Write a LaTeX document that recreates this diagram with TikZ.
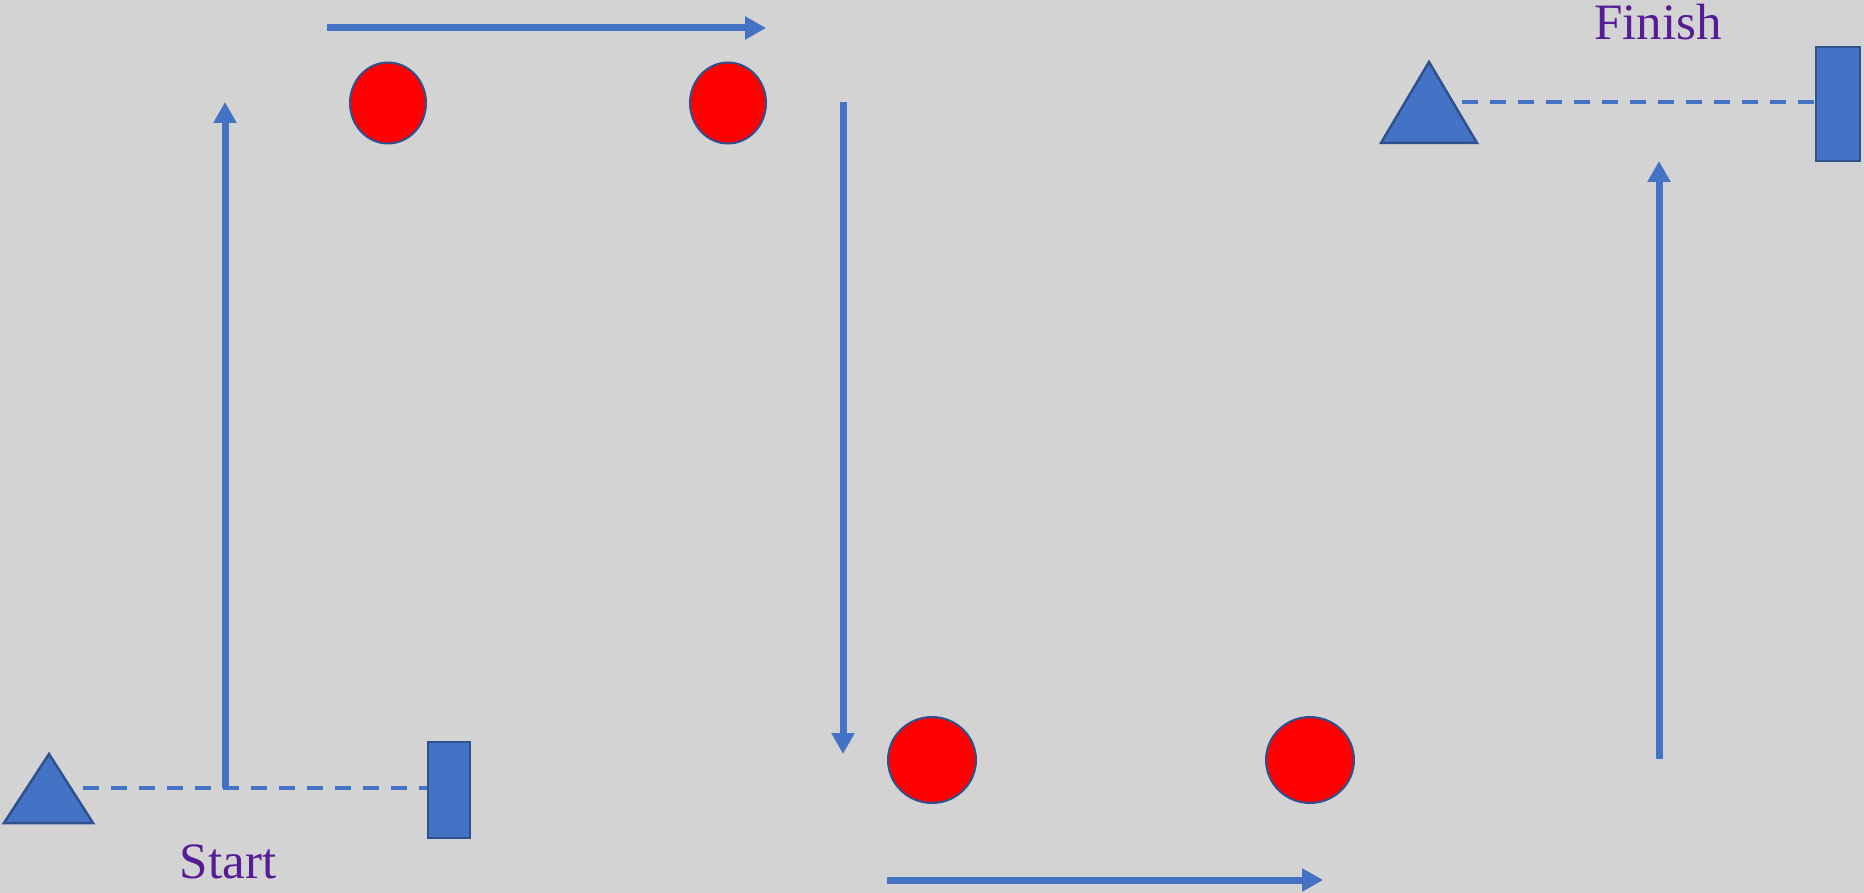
\documentclass[tikz,border=0pt]{standalone}
\usepackage{fontspec}
\setmainfont{Liberation Serif}
\usetikzlibrary{arrows.meta,shapes.geometric}
\definecolor{bg}{RGB}{211,211,211}
\definecolor{myblue}{RGB}{68,114,196}
\definecolor{edgeblue}{RGB}{47,82,143}
\definecolor{lbl}{RGB}{86,28,150}
\begin{document}
\begin{tikzpicture}[x=1pt,y=-1pt,
 flow/.style={draw=myblue,line width=7pt,-{Triangle[length=21pt,width=22pt]}},
 guide/.style={draw=myblue,line width=3.5pt,dash pattern=on 16pt off 12pt},
 ball/.style={ellipse,draw=edgeblue,line width=2pt,fill=red,inner sep=0pt},
 cone/.style={draw=edgeblue,line width=2.5pt,fill=myblue,line join=miter},
 gate/.style={rectangle,draw=edgeblue,line width=2.5pt,fill=myblue,inner sep=0pt},
 lab/.style={text=lbl,font=\fontsize{51}{60}\selectfont,anchor=base}]
\fill[bg] (0,0) rectangle (1864,893);
\useasboundingbox (0,0) rectangle (1864,893);
% cones
\draw[cone] (4,823) -- (49,754) -- (93,823) -- cycle;
\draw[cone] (1381,143) -- (1429,62) -- (1477,143) -- cycle;
% gates
\node[gate,minimum width=42pt,minimum height=96pt] (gate1) at (449,790) {};
\node[gate,minimum width=44pt,minimum height=114pt] (gate2) at (1838,104) {};
% balls
\node[ball,minimum width=76pt,minimum height=81pt] (b1) at (388,103) {};
\node[ball,minimum width=76pt,minimum height=81pt] (b2) at (728,103) {};
\node[ball,minimum width=88pt,minimum height=86pt] (b3) at (932,760) {};
\node[ball,minimum width=88pt,minimum height=86pt] (b4) at (1310,760) {};
% coordinates
\coordinate (d1) at (83,788);
\coordinate (d2) at (1462,102);
\coordinate (a1s) at (225,788);
\coordinate (a1e) at (225,102);
\coordinate (a2s) at (327,28);
\coordinate (a2e) at (766,28);
\coordinate (a3s) at (843,102);
\coordinate (a3e) at (843,754);
\coordinate (a4s) at (887,880);
\coordinate (a4e) at (1323,880);
\coordinate (a5s) at (1659,759);
\coordinate (a5e) at (1659,161);
% dashed lines
\draw[guide] (d1) -- (d1 -| gate1.west);
\draw[guide] (d2) -- (d2 -| gate2.west);
% flow arrows
\draw[flow] (a1s) -- (a1e);
\draw[flow] (a2s) -- (a2e);
\draw[flow] (a3s) -- (a3e);
\draw[flow] (a4s) -- (a4e);
\draw[flow] (a5s) -- (a5e);
% labels
\node[lab] (start) at (228,878) {Start};
\node[lab] (finish) at (1658,40) {Finish};
\end{tikzpicture}
\end{document}
